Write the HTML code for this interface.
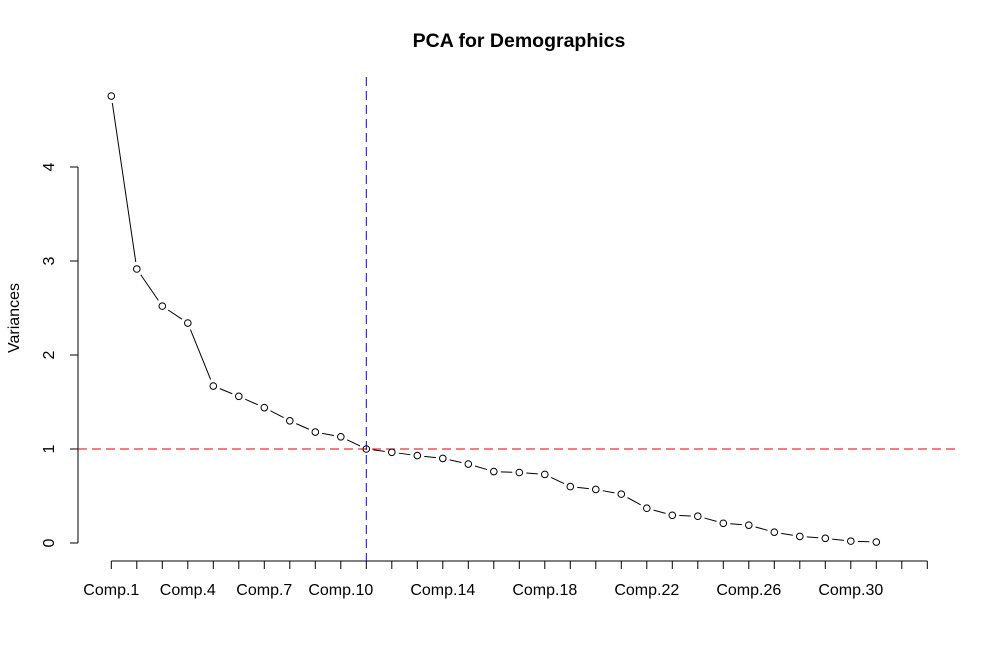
<!DOCTYPE html>
<html><head><meta charset="utf-8"><style>
body{margin:0;background:#fff;}
svg{display:block;font-family:"Liberation Sans",Arial,sans-serif;}
</style></head><body>
<svg id="chart" width="1000" height="658" viewBox="0 0 1000 658">
<text x="519" y="47" text-anchor="middle" font-size="19.5" font-weight="bold">PCA for Demographics</text>
<text transform="translate(19,318) rotate(-90)" text-anchor="middle" font-size="16">Variances</text>
<g id="axes"></g>
<g id="marks"></g>
</svg>
<script>
const variances = [4.755,2.915,2.52,2.34,1.67,1.56,1.44,1.30,1.18,1.13,1.00,0.965,0.93,0.90,0.84,0.76,0.75,0.73,0.60,0.57,0.52,0.37,0.295,0.285,0.21,0.19,0.115,0.07,0.05,0.02,0.01];
const xTickCount = 33;
const xLabelTicks = [0,3,6,9,13,17,21,25,29];
const xLabels = ["Comp.1","Comp.4","Comp.7","Comp.10","Comp.14","Comp.18","Comp.22","Comp.26","Comp.30"];
const yTicks = [0,1,2,3,4];
const hLineValue = 1;
const vLineIndex = 10;

const NS="http://www.w3.org/2000/svg";
const xs=i=>111.3+i*25.5;
const ys=v=>543-v*94;
function mk(tag,attrs,parent){const e=document.createElementNS(NS,tag);for(const k in attrs)e.setAttribute(k,attrs[k]);parent.appendChild(e);return e;}
const axes=document.getElementById('axes'), marks=document.getElementById('marks');

let e=mk('line',{x1:xs(0),x2:xs(xTickCount-1),y1:561,y2:561,stroke:'#000','stroke-width':1},axes);


for(let i=0;i<xTickCount;i++){
  e=mk('line',{x1:xs(i),x2:xs(i),y1:561,y2:569,stroke:'#000'},axes);
  
  
}
xLabelTicks.forEach((t,k)=>{
  e=mk('text',{x:xs(t),y:595,'text-anchor':'middle','font-size':16},axes);
  e.textContent=xLabels[k];
  
  
});
e=mk('line',{x1:78,x2:78,y1:ys(0),y2:ys(4),stroke:'#000'},axes);


yTicks.forEach(v=>{
  e=mk('text',{transform:`translate(54,${ys(v)}) rotate(-90)`,'text-anchor':'middle','font-size':16},axes);
  e.textContent=v;
  
  
  e=mk('line',{x1:70,x2:78,y1:ys(v),y2:ys(v),stroke:'#000'},axes);
  
  
});
e=mk('line',{x1:78,x2:960,y1:ys(hLineValue),y2:ys(hLineValue),stroke:'#e00000','stroke-dasharray':'9,5'},marks);


e=mk('line',{x1:xs(vLineIndex),x2:xs(vLineIndex),y1:77,y2:561,stroke:'#0000ff','stroke-dasharray':'9,5'},marks);


for(let i=0;i<variances.length-1;i++){
  const x1=xs(i),y1=ys(variances[i]),x2=xs(i+1),y2=ys(variances[i+1]);
  const dx=x2-x1,dy=y2-y1,L=Math.hypot(dx,dy),g=7;
  if(L>2*g){
    e=mk('line',{x1:x1+dx*g/L,y1:y1+dy*g/L,x2:x2-dx*g/L,y2:y2-dy*g/L,stroke:'#000','stroke-width':1},marks);
    
    
  }
}
variances.forEach((v,i)=>{
  e=mk('circle',{cx:xs(i),cy:ys(v),r:3.3,fill:'none',stroke:'#000','stroke-width':1},marks);
  
  
});
</script>
</body></html>
